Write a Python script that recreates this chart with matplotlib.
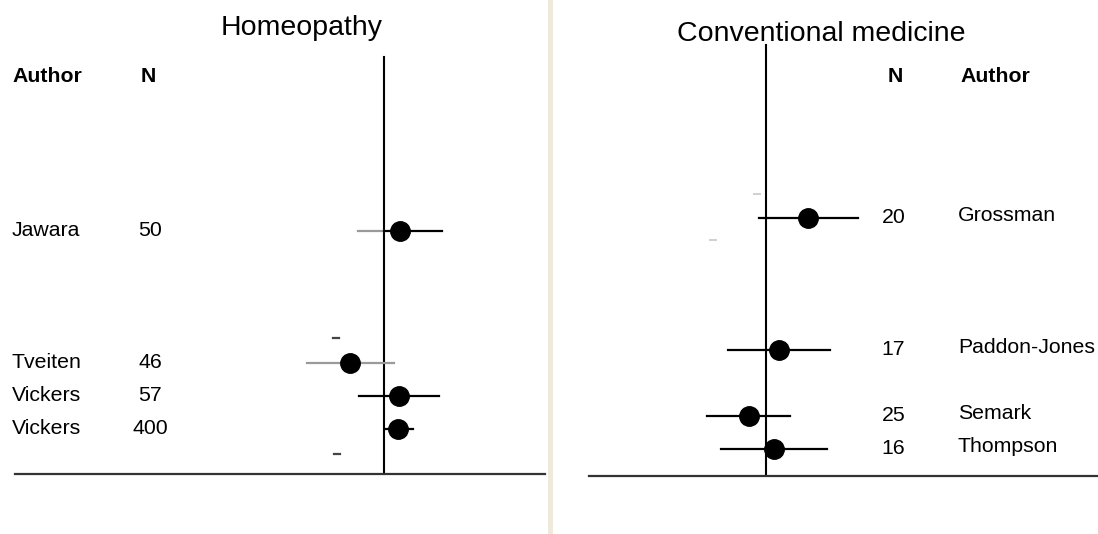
import matplotlib
matplotlib.use("Agg")
import matplotlib.pyplot as plt
from matplotlib.lines import Line2D

plt.rcParams['font.family'] = ['Liberation Sans', 'DejaVu Sans']

# ---------------- data ----------------
# Homeopathy panel (effect sizes, arbitrary standardised units; 0 = no effect)
homeo_authors = ["Jawara", "Tveiten", "Vickers", "Vickers"]
homeo_n = [50, 46, 57, 400]
homeo_rows = [7, 11, 12, 13]
homeo_est = [0.16, -0.34, 0.15, 0.14]
homeo_lo = [-0.26, -0.77, -0.25, 0.01]
homeo_hi = [0.58, 0.10, 0.55, 0.29]
homeo_grey_study = [False, True, False, False]   # whole interval grey in the original
homeo_grey_lower = [True, True, False, False]    # part below zero grey in the original
homeo_stray_x = [-0.48, -0.47]
homeo_stray_rows = [10.24, 13.76]

# Conventional medicine panel
conv_authors = ["Grossman", "Paddon-Jones", "Semark", "Thompson"]
conv_n = [20, 17, 25, 16]
conv_rows = [7, 11, 13, 14]
conv_est = [0.42, 0.13, -0.17, 0.08]
conv_lo = [-0.07, -0.38, -0.59, -0.45]
conv_hi = [0.92, 0.64, 0.24, 0.61]
conv_stray_x = [-0.09, -0.53]
conv_stray_rows = [6.27, 7.67]

# ---------------- figure ----------------
W, H = 1098, 534
fig = plt.figure(figsize=(W / 100, H / 100), dpi=100)
fig.patch.set_facecolor("white")

GREY = "#9a9a9a"
BASE = "#333333"
FS = 15.3
TITLE_FS = 20.5


def make_axes(px_left, px_right, px_bottom, xlim, ylim):
    ax = fig.add_axes([px_left / W, (H - px_bottom) / H,
                       (px_right - px_left) / W, px_bottom / H])
    ax.set_xlim(*xlim)
    ax.set_ylim(*ylim)
    for s in ("top", "left", "right"):
        ax.spines[s].set_visible(False)
    ax.spines["bottom"].set_color(BASE)
    ax.spines["bottom"].set_linewidth(1.6)
    ax.set_xticks([])
    ax.set_yticks([])
    ax.patch.set_alpha(0)
    return ax


# ---- left panel: Homeopathy ----
axL = make_axes(15, 545, 474, (-3.69, 1.61), (474 / 33, 0))
axL.plot([0, 0], [1.73, 474 / 33], color="black", lw=1.5, zorder=2)
for r, e, lo, hi, g, gl in zip(homeo_rows, homeo_est, homeo_lo, homeo_hi,
                               homeo_grey_study, homeo_grey_lower):
    if g:
        axL.plot([lo, hi], [r, r], color=GREY, lw=1.6, zorder=3)
    elif gl and lo < 0:
        axL.plot([lo, 0], [r, r], color=GREY, lw=1.6, zorder=3)
        axL.plot([0, hi], [r, r], color="black", lw=1.6, zorder=3)
    else:
        axL.plot([lo, hi], [r, r], color="black", lw=1.6, zorder=3)
    axL.plot(e, r, "o", ms=14, color="black", zorder=4)
for x, r in zip(homeo_stray_x, homeo_stray_rows):
    axL.plot([x - 0.03, x + 0.03], [r, r], color="#444444", lw=1.6)

axL.text(-3.72, 2.48, "Author", fontsize=FS, fontweight="bold", ha="left", va="baseline", clip_on=False)
axL.text(-2.36, 2.48, "N", fontsize=FS, fontweight="bold", ha="center", va="baseline", clip_on=False)
for a, n, r in zip(homeo_authors, homeo_n, homeo_rows):
    axL.text(-3.72, r + 0.14, a, fontsize=FS, ha="left", va="baseline", clip_on=False)
    axL.text(-2.34, r + 0.14, str(n), fontsize=FS, ha="center", va="baseline", clip_on=False)

# ---- right panel: Conventional medicine ----
axR = make_axes(589, 1098, 476, (-1.77, 3.32), ((476 + 13) / 33, 13 / 33))
axR.plot([0, 0], [1.76, (476 + 13) / 33], color="black", lw=1.5, zorder=2)
for r, e, lo, hi in zip(conv_rows, conv_est, conv_lo, conv_hi):
    axR.plot([lo, hi], [r, r], color="black", lw=1.6, zorder=3)
    axR.plot(e, r, "o", ms=14, color="black", zorder=4)
for x, r in zip(conv_stray_x, conv_stray_rows):
    axR.plot([x - 0.03, x + 0.03], [r, r], color="#d0d0d0", lw=1.4)

axR.text(1.29, 2.88, "N", fontsize=FS, fontweight="bold", ha="center", va="baseline", clip_on=False)
axR.text(1.94, 2.88, "Author", fontsize=FS, fontweight="bold", ha="left", va="baseline", clip_on=False)
for a, n, r in zip(conv_authors, conv_n, conv_rows):
    axR.text(1.275, r + 0.14, str(n), fontsize=FS, ha="center", va="baseline", clip_on=False)
    axR.text(1.92, r + 0.09, a, fontsize=FS, ha="left", va="baseline", clip_on=False)

# ---- titles ----
fig.text(302 / W, 1 - 35 / H, "Homeopathy", fontsize=TITLE_FS, ha="center", va="baseline")
fig.text(821 / W, 1 - 41 / H, "Conventional medicine", fontsize=TITLE_FS, ha="center", va="baseline")

# ---- beige divider between panels ----
fig.add_artist(Line2D([549.5 / W, 549.5 / W], [0, 1], transform=fig.transFigure,
                      color="#eee9da", lw=3.6))

fig.savefig("out.png", dpi=100, facecolor="white")
